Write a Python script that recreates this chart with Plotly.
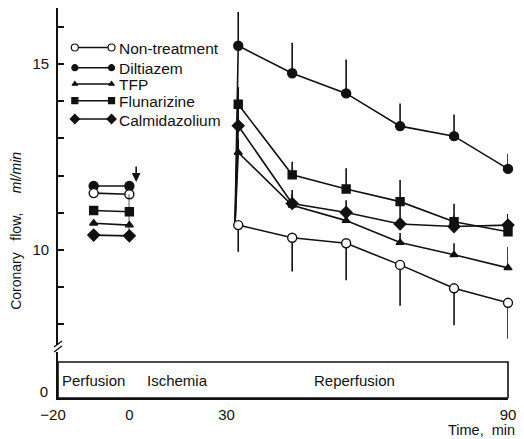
import plotly.graph_objects as go

# ---------------- data ----------------
series_names = ["Non-treatment", "Diltiazem", "TFP", "Flunarizine", "Calmidazolium"]

pre_time = [-10, 0]
pre_nontreat = [11.53, 11.50]
pre_dilt = [11.72, 11.72]
pre_tfp = [10.72, 10.67]
pre_flun = [11.06, 11.03]
pre_calm = [10.40, 10.38]

rep_start_time = 31.8
rep_start_flow = 10.6
rep_time = [32.5, 44, 55.5, 67, 78.5, 90]

nontreat = [10.67, 10.33, 10.18, 9.60, 8.97, 8.58]
nontreat_err = [0.72, 0.91, 0.99, 1.10, 0.99, 0.96]
dilt = [15.49, 14.75, 14.21, 13.33, 13.06, 12.18]
dilt_err = [0.91, 0.82, 0.91, 0.61, 0.58, 0.40]
tfp = [12.62, 11.20, 10.79, 10.20, 9.87, 9.52]
tfp_err = [0.37, 0.30, 0.30, 0.26, 0.31, 0.56]
flun = [13.92, 12.02, 11.64, 11.30, 10.76, 10.49]
flun_err = [0.46, 0.35, 0.56, 0.58, 0.48, 0.48]
calm = [13.34, 11.25, 11.01, 10.70, 10.63, 10.67]
calm_err = [0.45, 0.36, 0.33, 0.60, 0.30, 0.30]

y_ticks = [8, 9, 10, 11, 12, 13, 14, 15, 16]
y_ticklabels = ["", "", "10", "", "", "", "", "15", ""]
phase_labels = ["Perfusion", "Ischemia", "Reperfusion"]

# ---------------- styling ----------------
W, H = 524, 439
ML, MR, MT, MB = 58, 12, 8, 41
PW = W - ML - MR
PH = H - MT - MB
FONT = "Liberation Sans, Arial, Helvetica, sans-serif"
INK = "#111111"
LW = 1.6


def px_x(p):
    return (p - ML) / PW


def px_y(p):
    return (H - MB - p) / PH


styles = {
    "Non-treatment": dict(symbol="circle", size=9, color="white"),
    "Diltiazem": dict(symbol="circle", size=9, color=INK),
    "TFP": dict(symbol="triangle-up", size=7, color=INK),
    "Flunarizine": dict(symbol="square", size=8, color=INK),
    "Calmidazolium": dict(symbol="diamond", size=9, color=INK),
}

pre_vals = {
    "Non-treatment": pre_nontreat, "Diltiazem": pre_dilt, "TFP": pre_tfp,
    "Flunarizine": pre_flun, "Calmidazolium": pre_calm,
}
rep_vals = {
    "Non-treatment": nontreat, "Diltiazem": dilt, "TFP": tfp,
    "Flunarizine": flun, "Calmidazolium": calm,
}
rep_errs = {
    "Non-treatment": nontreat_err, "Diltiazem": dilt_err, "TFP": tfp_err,
    "Flunarizine": flun_err, "Calmidazolium": calm_err,
}

fig = go.Figure()

draw_order = ["Diltiazem", "Flunarizine", "Calmidazolium", "TFP", "Non-treatment"]

# spikes at start of reperfusion
for name in draw_order:
    if name == "Non-treatment":
        continue
    fig.add_trace(go.Scatter(
        x=[rep_start_time, rep_time[0]], y=[rep_start_flow, rep_vals[name][0]],
        mode="lines", line=dict(color=INK, width=LW), xaxis="x3", yaxis="y",
        showlegend=False, hoverinfo="skip", cliponaxis=False))

for name in draw_order:
    st = styles[name]
    mk = dict(symbol=st["symbol"], size=st["size"], color=st["color"],
              line=dict(color=INK, width=1.4))
    # pre-ischemia
    fig.add_trace(go.Scatter(
        x=pre_time, y=pre_vals[name], mode="lines+markers",
        line=dict(color=INK, width=LW), marker=mk, xaxis="x", yaxis="y",
        name=name, showlegend=False, cliponaxis=False))
    # reperfusion
    errs = rep_errs[name]
    zeros = [0] * len(errs)
    if name == "Non-treatment":
        ey = dict(type="data", symmetric=False, array=zeros, arrayminus=errs,
                  width=0, thickness=LW, color=INK)
    else:
        ey = dict(type="data", symmetric=False, array=errs, arrayminus=zeros,
                  width=0, thickness=LW, color=INK)
    fig.add_trace(go.Scatter(
        x=rep_time, y=rep_vals[name], mode="lines+markers",
        line=dict(color=INK, width=LW), marker=mk, error_y=ey,
        xaxis="x3", yaxis="y", name=name, showlegend=False, cliponaxis=False))

# ---------------- hand-drawn legend (as in the original) ----------------
leg_rows_px = [47.5, 67.7, 84.0, 100.7, 119.0]
leg_x0, leg_x1, leg_tx = px_x(75), px_x(112), px_x(118)
leg_sizes = {"Non-treatment": 7, "Diltiazem": 6, "TFP": 5, "Flunarizine": 6, "Calmidazolium": 7}
annotations = []
for name, rpx in zip(series_names, leg_rows_px):
    st = styles[name]
    yy = px_y(rpx)
    fig.add_trace(go.Scatter(
        x=[leg_x0, leg_x1], y=[yy, yy], mode="lines+markers",
        line=dict(color=INK, width=1.5),
        marker=dict(symbol=st["symbol"], size=leg_sizes[name], color=st["color"],
                    line=dict(color=INK, width=1.2)),
        xaxis="x4", yaxis="y4", showlegend=False, hoverinfo="skip", cliponaxis=False))
    annotations.append(dict(
        x=leg_tx, y=yy, xref="paper", yref="paper", xanchor="left", yanchor="middle",
        text=name, showarrow=False, yshift=-1,
        font=dict(family=FONT, size=15.5, color=INK)))

# phase labels in the box
for lab, cpx in zip(phase_labels, [94, 179, 357.5]):
    annotations.append(dict(
        x=px_x(cpx), y=0.38, xref="paper", yref="y2", xanchor="center", yanchor="middle",
        text=lab, showarrow=False, font=dict(family=FONT, size=15, color=INK)))

# axis titles
annotations.append(dict(
    x=px_x(15.5), y=px_y(231), xref="paper", yref="paper", xanchor="center", yanchor="middle",
    text="Coronary\u00a0\u00a0\u00a0flow,\u00a0\u00a0\u00a0\u00a0\u00a0<i>ml/min</i>",
    textangle=-90, showarrow=False, font=dict(family=FONT, size=14, color=INK)))
annotations.append(dict(
    x=px_x(521), y=px_y(429.5), xref="paper", yref="paper", xanchor="right", yanchor="middle",
    text="Time,\u00a0\u00a0min", showarrow=False, font=dict(family=FONT, size=14.5, color=INK)))

# ischemia-start arrow
annotations.append(dict(
    x=2.1, y=11.83, xref="x2", yref="y", text="", showarrow=True,
    ax=0, ay=-17, arrowhead=2, arrowsize=1.1, arrowwidth=1.6, arrowcolor=INK))

shapes = [
    # phase box
    dict(type="rect", xref="paper", yref="y2", x0=0, x1=1, y0=0, y1=0.783,
         line=dict(color=INK, width=1.6)),
    # drop at start of ischemia
    dict(type="line", xref="x", yref="y", x0=pre_time[1], x1=pre_time[1],
         y0=pre_nontreat[1], y1=pre_calm[1], line=dict(color=INK, width=1.4)),
    # axis break marks
    dict(type="line", xref="paper", yref="paper", x0=px_x(54), x1=px_x(62),
         y0=px_y(347), y1=px_y(341), line=dict(color=INK, width=1.4)),
    dict(type="line", xref="paper", yref="paper", x0=px_x(54), x1=px_x(62),
         y0=px_y(352), y1=px_y(346), line=dict(color=INK, width=1.4)),
]

tickfont = dict(family=FONT, size=15, color=INK)
common_x = dict(showgrid=False, zeroline=False, showline=True, linecolor=INK,
                linewidth=1.6, ticks="", tickfont=tickfont, anchor="y2", fixedrange=True)

fig.update_layout(
    width=W, height=H, autosize=False,
    margin=dict(l=ML, r=MR, t=MT, b=MB),
    paper_bgcolor="white", plot_bgcolor="rgba(0,0,0,0)",
    showlegend=False,
    xaxis=dict(domain=[0, px_x(130)], range=[-20, 0], tickvals=[-20],
               ticklabelshift=-5, ticklabelstandoff=2, **common_x),
    xaxis2=dict(domain=[px_x(130), px_x(228)], range=[0, 30], tickvals=[0],
                ticklabelstandoff=2, **common_x),
    xaxis3=dict(domain=[px_x(228), 1], range=[30, 90], tickvals=[30, 90],
                ticklabelstandoff=2, **common_x),
    xaxis4=dict(domain=[0, 1], range=[0, 1], visible=False, anchor="y4", fixedrange=True),
    yaxis=dict(domain=[px_y(345), 1], range=[10 - (345 - 250) / 37.2, 10 + (250 - 8) / 37.2],
               tickvals=y_ticks, ticktext=y_ticklabels, ticks="inside", ticklen=6,
               tickwidth=1.5, tickcolor=INK, showline=True, linecolor=INK, linewidth=1.6,
               showgrid=False, zeroline=False, anchor="x", tickfont=tickfont,
               ticklabelstandoff=4, fixedrange=True),
    yaxis2=dict(domain=[0, px_y(352)], range=[0, 1], tickvals=[0], ticktext=["0"],
                ticks="", showline=True, linecolor=INK, linewidth=1.6, showgrid=False,
                zeroline=False, anchor="x", tickfont=tickfont, ticklabelstandoff=5,
                ticklabelshift=-6, fixedrange=True),
    yaxis4=dict(domain=[0, 1], range=[0, 1], visible=False, anchor="x4", fixedrange=True),
    annotations=annotations,
    shapes=shapes,
)

fig.write_html("out.html", config={"displayModeBar": False})
